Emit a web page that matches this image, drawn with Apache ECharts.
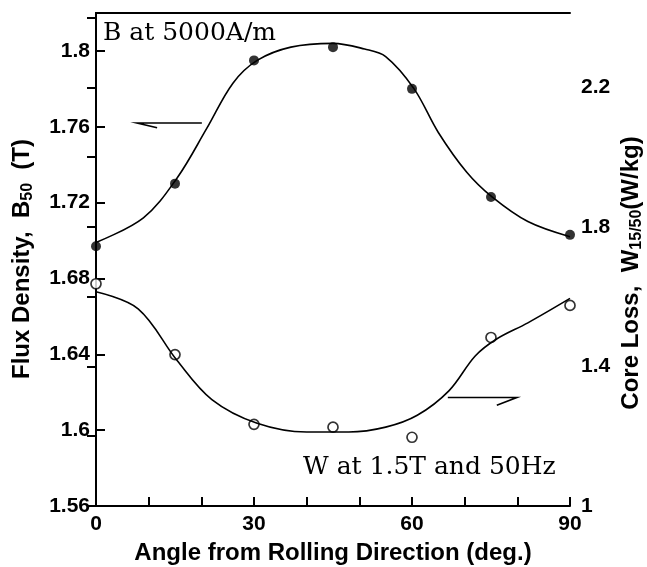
<!DOCTYPE html>
<html>
<head>
<meta charset="utf-8">
<script src="https://cdn.jsdelivr.net/npm/echarts@6/dist/echarts.min.js"></script>
<style>
  html, body { margin: 0; background: #fff; }
  #chart { width: 647px; height: 567px; }
</style>
</head>
<body>
<div id="chart"></div>
<script>
// measured points
const angles = [0, 15, 30, 45, 60, 75, 90]
const fluxB50 = [1.697, 1.730, 1.795, 1.802, 1.780, 1.723, 1.703]
const coreLoss = [1.637, 1.434, 1.234, 1.226, 1.197, 1.483, 1.575]

// fitted curves
const fluxCurveX = [0, 9, 15.4, 21, 26, 30.6, 37, 45, 51, 55, 60.4, 65, 70.4, 75.2, 82, 90]
const fluxCurveY = [1.699, 1.712, 1.733, 1.759, 1.783, 1.795, 1.802, 1.804, 1.801, 1.797, 1.780, 1.757, 1.736, 1.723, 1.710, 1.702]
const lossCurveX = [0, 8, 15.4, 22, 30.6, 40, 48, 55, 61, 67, 72, 76, 82, 90]
const lossCurveY = [1.614, 1.565, 1.417, 1.305, 1.237, 1.212, 1.212, 1.226, 1.260, 1.330, 1.430, 1.478, 1.525, 1.595]

// tick labels
const xLabels = [0, 30, 60, 90]
const rightLabels = [1, 1.4, 1.8, 2.2]

// arrows (shaft end, tip, barb) in data coords
const fluxArrow = [[20.1, 1.762], [7.8, 1.762], [11.6, 1.7595]]
const lossArrow = [[66.8, 1.311], [79.9, 1.311], [76.1, 1.289]]

const zip = (xs, ys) => xs.map((x, i) => [x, ys[i]])
const sans = 'Liberation Sans'
const axisLine = { lineStyle: { color: '#000', width: 2 } }
const tickStyle = { inside: true, length: 9, lineStyle: { color: '#000', width: 2 } }
const labelStyle = { color: '#000', fontFamily: sans, fontWeight: 'bold', fontSize: 21 }

const option = {
  animation: false,
  backgroundColor: '#fff',
  grid: { left: 96, right: 77, top: 13, bottom: 61, containLabel: false, outerBoundsMode: 'none' },
  xAxis: [
    {
      type: 'value', min: 0, max: 90, interval: 10,
      axisLine, axisTick: tickStyle, splitLine: { show: false },
      axisLabel: Object.assign({}, labelStyle, {
        margin: 8,
        formatter: v => xLabels.includes(v) ? String(v) : ''
      })
    },
    {
      type: 'value', position: 'top', min: 0, max: 90,
      axisLine, axisTick: { show: false }, axisLabel: { show: false }, splitLine: { show: false }
    }
  ],
  yAxis: [
    {
      type: 'value', min: 1.56, max: 1.82, interval: 0.04,
      axisLine: Object.assign({ show: true }, axisLine), axisTick: tickStyle, splitLine: { show: false },
      axisLabel: Object.assign({}, labelStyle, {
        margin: 6, showMaxLabel: false,
        formatter: v => v > 1.81 ? '' : String(+v.toFixed(2))
      })
    },
    {
      type: 'value', position: 'right', min: 1, max: 2.413, interval: 0.2,
      axisLine: Object.assign({ show: true }, axisLine), axisTick: tickStyle, splitLine: { show: false },
      axisLabel: Object.assign({}, labelStyle, {
        margin: 11, showMaxLabel: false,
        formatter: v => rightLabels.some(r => Math.abs(r - v) < 1e-6) ? String(+v.toFixed(1)) : ''
      })
    }
  ],
  series: [
    {
      type: 'line', yAxisIndex: 0, data: zip(fluxCurveX, fluxCurveY),
      smooth: 0.35, showSymbol: false, lineStyle: { color: '#000', width: 1.6 }
    },
    {
      type: 'line', yAxisIndex: 1, data: zip(lossCurveX, lossCurveY),
      smooth: 0.35, showSymbol: false, lineStyle: { color: '#000', width: 1.6 }
    },
    {
      type: 'scatter', yAxisIndex: 0, data: zip(angles, fluxB50), clip: false,
      symbol: 'circle', symbolSize: 10, itemStyle: { color: '#000' }
    },
    {
      type: 'scatter', yAxisIndex: 1, data: zip(angles, coreLoss), clip: false,
      symbol: 'circle', symbolSize: 10,
      itemStyle: { color: '#fff', borderColor: '#000', borderWidth: 1.7 }
    }
  ]
}

const chart = echarts.init(document.getElementById('chart'))
chart.setOption(option)

const toPx = (seriesIndex, pts) => pts.map(p => chart.convertToPixel({ seriesIndex }, p))
const arrow = pts => ({
  type: 'polyline', shape: { points: pts }, silent: true,
  style: { stroke: '#000', lineWidth: 1.6, fill: null }
})
const titleText = (text, x, y, rotation, rich) => ({
  type: 'text', x, y, rotation, silent: true,
  style: {
    text, fill: '#000', fontFamily: sans, fontWeight: 'bold', fontSize: 24,
    align: 'center', verticalAlign: 'middle', rich
  }
})
const serifText = (text, x, y) => ({
  type: 'text', x, y, silent: true,
  style: { text, fill: '#000', fontFamily: 'DejaVu Serif', fontSize: 25, align: 'left', verticalAlign: 'middle' }
})
const sub = { fontFamily: sans, fontWeight: 'bold', fontSize: 16, padding: [12, 0, 0, 0] }

chart.setOption({
  graphic: [
    arrow(toPx(0, fluxArrow)),
    arrow(toPx(1, lossArrow)),
    serifText('B at 5000A/m', 103, 33),
    serifText('W at 1.5T and 50Hz', 303, 467),
    titleText('Angle from Rolling Direction (deg.)', 333, 553, 0),
    titleText('Flux Density,  B{sub|50}  (T)', 22, 259, Math.PI / 2, { sub }),
    titleText('Core Loss,  W{sub|15/50}(W/kg)', 631, 273, Math.PI / 2, { sub })
  ]
})
</script>
</body>
</html>
